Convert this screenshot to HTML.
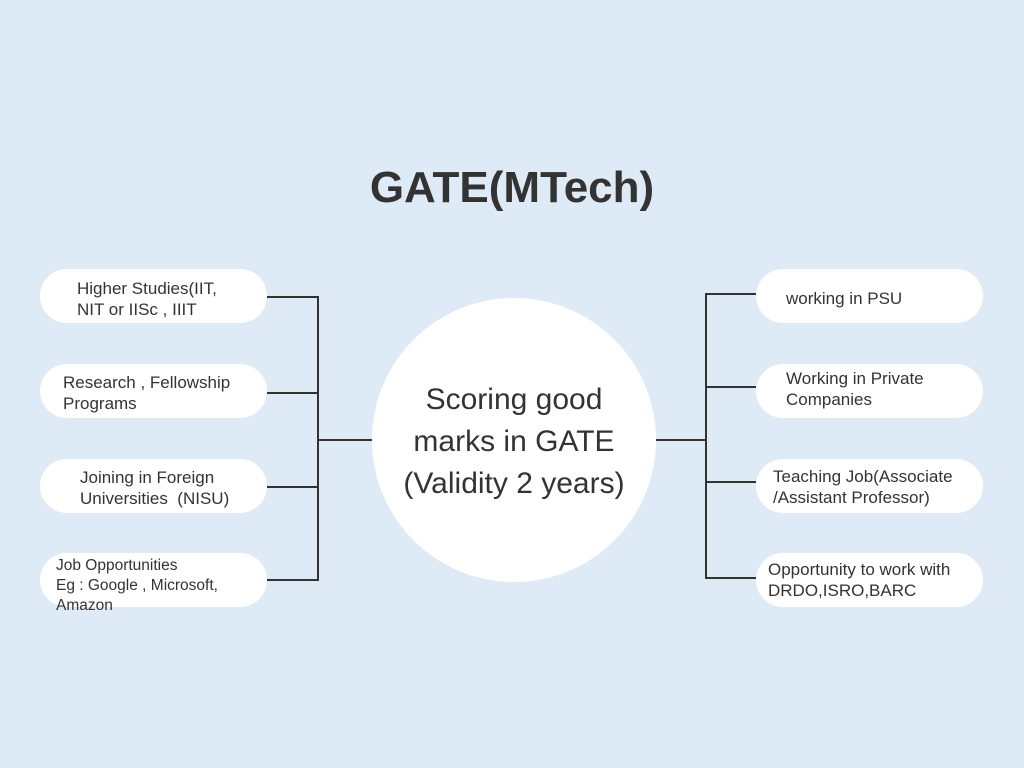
<!DOCTYPE html>
<html><head><style>
body{margin:0;width:1024px;height:768px;background:#deeaf5;position:relative;overflow:hidden;font-family:"Liberation Sans",sans-serif;color:#333}
.t{position:absolute;left:0;width:1024px;top:163px;text-align:center;font-size:44px;font-weight:bold;color:#333}
.b{position:absolute;width:227px;height:54px;background:#fff;border-radius:27px}
.x{position:absolute;font-size:17px;line-height:21px;color:#333;white-space:nowrap}
.c{position:absolute;left:372px;top:298px;width:284px;height:284px;border-radius:50%;background:#fff}
.ct{position:absolute;left:362px;top:379px;width:304px;text-align:center;font-size:30px;line-height:42px;color:#333}
</style></head><body>
<div class="t">GATE(MTech)</div>
<svg width="1024" height="768" style="position:absolute;left:0;top:0">
<g stroke="#333" stroke-width="2" fill="none">
<path d="M267 297H318M267 393H318M267 487H318M267 580H318M318 296V581M318 440H372"/>
<path d="M756 294H706M756 387H706M756 482H706M756 578H706M706 293V579M706 440H656"/>
</g></svg>
<div class="c"></div>
<div class="ct">Scoring good<br>marks in GATE<br>(Validity 2 years)</div>
<div class="b" style="left:40px;top:269px"></div>
<div class="b" style="left:40px;top:364px"></div>
<div class="b" style="left:40px;top:459px"></div>
<div class="b" style="left:40px;top:553px"></div>
<div class="b" style="left:756px;top:269px"></div>
<div class="b" style="left:756px;top:364px"></div>
<div class="b" style="left:756px;top:459px"></div>
<div class="b" style="left:756px;top:553px"></div>
<div class="x" style="left:77px;top:278px">Higher Studies(IIT,<br>NIT or IISc , IIIT</div>
<div class="x" style="left:63px;top:372px">Research , Fellowship<br>Programs</div>
<div class="x" style="left:80px;top:467px">Joining in Foreign<br>Universities &nbsp;(NISU)</div>
<div class="x" style="left:56px;top:556px;font-size:15.5px;line-height:20px">Job Opportunities<br>Eg : Google , Microsoft,<br>Amazon</div>
<div class="x" style="left:786px;top:288px">working in PSU</div>
<div class="x" style="left:786px;top:368px">Working in Private<br>Companies</div>
<div class="x" style="left:773px;top:466px">Teaching Job(Associate<br>/Assistant Professor)</div>
<div class="x" style="left:768px;top:559px">Opportunity to work with<br>DRDO,ISRO,BARC</div>
</body></html>
